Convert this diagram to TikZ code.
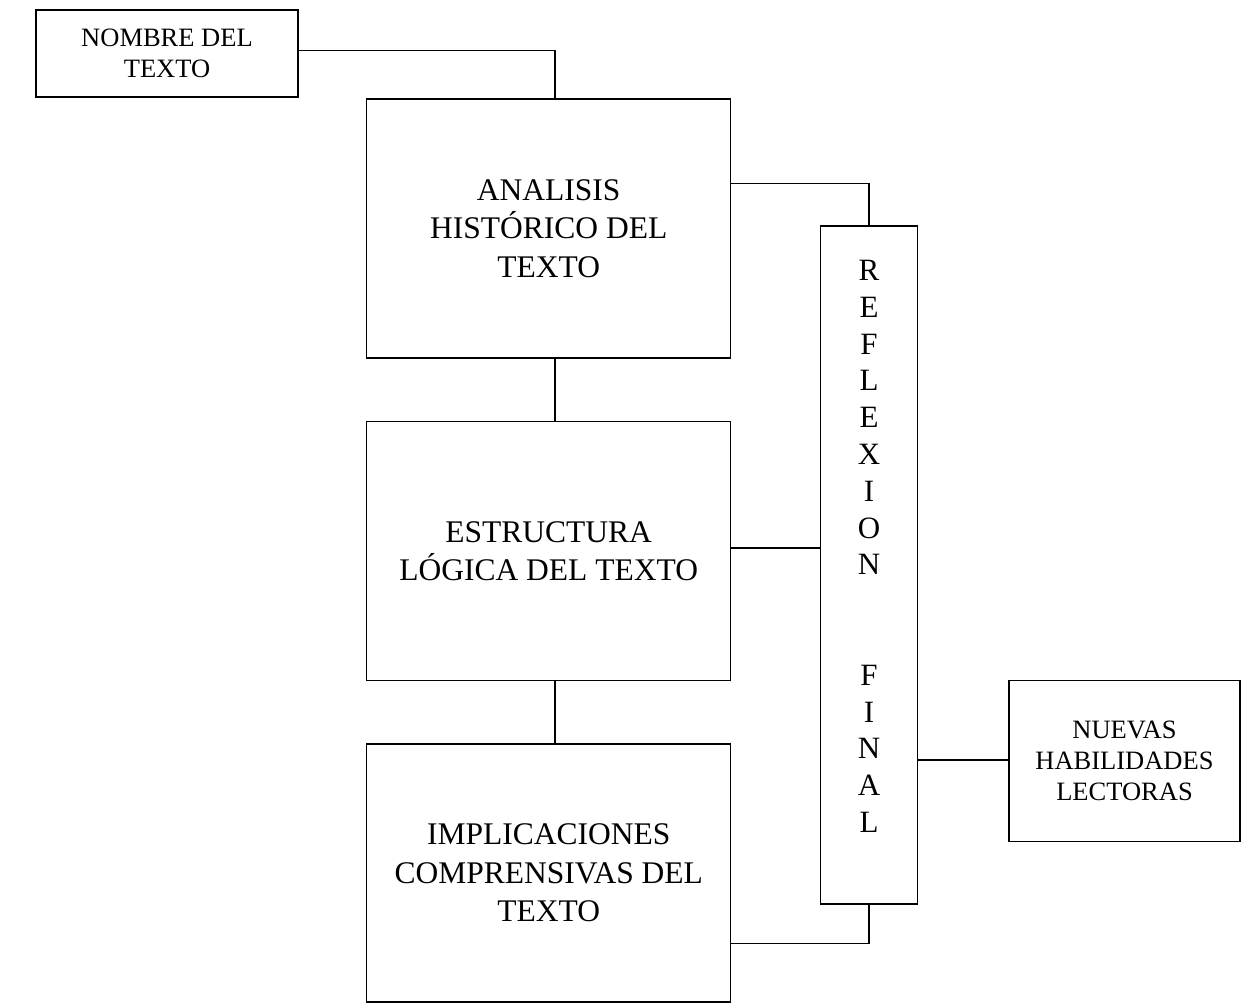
\documentclass[tikz,border=0pt]{standalone}
\usepackage{fontspec}
\setmainfont{Liberation Serif}
\begin{document}
\begin{tikzpicture}[x=1pt,y=-1pt,
  box/.style={draw=black,line width=1.3pt,inner sep=0pt,align=center},
  bigtext/.style={font=\fontsize{31.5}{38.5}\selectfont},
  smalltext/.style={font=\fontsize{26.5}{31}\selectfont},
  conn/.style={draw=black,line width=1.3pt}]
\useasboundingbox (0,0) rectangle (1243,1003);
\node[box,smalltext,minimum width=262pt,minimum height=87pt] (nombre) at (167,53.5) {NOMBRE DEL\\TEXTO};
\node[box,bigtext,minimum width=364pt,minimum height=259pt] (analisis) at (548.7,228.5) {ANALISIS\\HISTÓRICO DEL\\TEXTO};
\node[box,bigtext,minimum width=364pt,minimum height=259pt] (estructura) at (548.7,551) {ESTRUCTURA\\LÓGICA DEL TEXTO};
\node[box,bigtext,minimum width=364pt,minimum height=258pt] (implic) at (548.7,873) {IMPLICACIONES\\COMPRENSIVAS DEL\\TEXTO};
\node[box,minimum width=96.6pt,minimum height=678pt] (reflex) at (869,565) {};
\node[font=\fontsize{31}{36.8}\selectfont,align=center,inner sep=0pt,anchor=north] (reflext) at (869,260) {R\\E\\F\\L\\E\\X\\I\\O\\N\\[73.6pt]F\\I\\N\\A\\L};
\node[box,smalltext,minimum width=231pt,minimum height=161pt] (nuevas) at (1124.5,761) {NUEVAS\\HABILIDADES\\LECTORAS};
\draw[conn] ([yshift=2.8pt]nombre.east) -| ([xshift=6.3pt]analisis.north);
\draw[conn] ([xshift=6.3pt]analisis.south) -- ([xshift=6.3pt]estructura.north);
\draw[conn] ([xshift=6.3pt]estructura.south) -- ([xshift=6.3pt]implic.north);
\draw[conn] ([yshift=44.8pt]analisis.east) -| (reflex.north);
\draw[conn] ([yshift=3pt]estructura.east) -- ([yshift=3pt]estructura.east -| reflex.west);
\draw[conn] ([yshift=-70.3pt]implic.east) -| (reflex.south);
\draw[conn] ([yshift=1pt]nuevas.west -| reflex.east) -- ([yshift=1pt]nuevas.west);
\end{tikzpicture}
\end{document}
